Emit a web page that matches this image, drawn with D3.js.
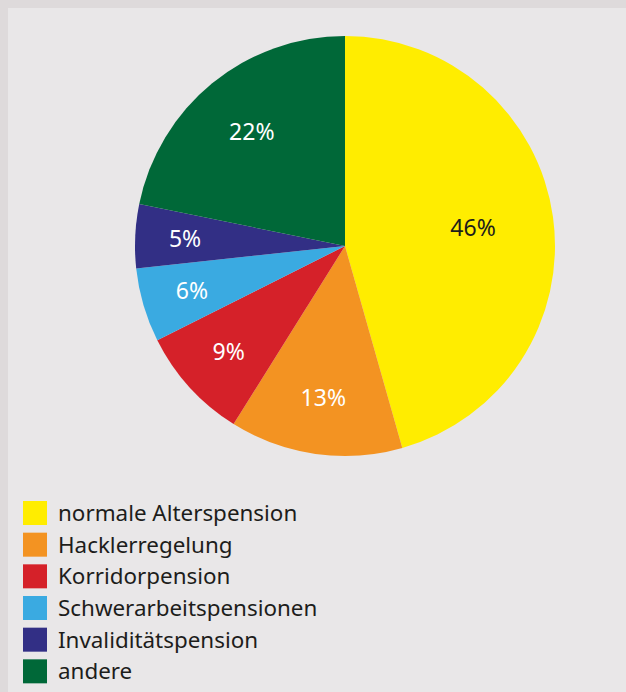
<!DOCTYPE html>
<html>
<head>
<meta charset="utf-8">
<script src="https://cdn.jsdelivr.net/npm/d3@7"></script>
<style>
  body { margin: 0; background: #dedadb; }
  svg { display: block; }
  .lbl { font-family: "Noto Sans", sans-serif; font-size: 23px; }
  .leg { font-family: "Noto Sans", sans-serif; font-size: 22.4px; fill: #1d1d1b; }
</style>
</head>
<body>
<div class="chart"></div>
<script>
var categories = ["normale Alterspension", "Hacklerregelung", "Korridorpension",
  "Schwerarbeitspensionen", "Invaliditätspension", "andere"];
var shares = [45.6, 13.3, 8.7, 5.7, 4.9, 21.8];
var colors = ["#ffed00", "#f39322", "#d52129", "#3aaae1", "#322f85", "#006838"];
var labelColors = ["#1d1d1b", "#fff", "#fff", "#fff", "#fff", "#fff"];

var svgWidth = 626;
var svgHeight = 692;
var cx = 345, cy = 246, radius = 210;

var data = categories.map(function(c, i) {
  return { name: c, value: shares[i], color: colors[i], text: labelColors[i] };
});
var total = d3.sum(shares);

var svg = d3.select(".chart")
  .append("svg")
  .attr("width", svgWidth)
  .attr("height", svgHeight);

// inner panel
svg.append("rect")
  .attr("x", 8)
  .attr("y", 8)
  .attr("width", svgWidth - 8)
  .attr("height", svgHeight - 8)
  .attr("fill", "#e9e7e8");

var pie = d3.pie()
  .sort(null)
  .value(d => d.value);

var arc = d3.arc()
  .innerRadius(0)
  .outerRadius(radius);

var pieGroup = svg.append("g")
  .attr("transform", `translate(${cx}, ${cy})`);

var arcs = pie(data);

pieGroup.selectAll("path")
  .data(arcs)
  .enter()
  .append("path")
  .attr("d", arc)
  .attr("fill", d => d.data.color);

// label distance shrinks for the big slices
pieGroup.selectAll("text")
  .data(arcs)
  .enter()
  .append("text")
  .attr("class", "lbl")
  .attr("transform", function(d) {
    var r = radius * (0.78 - 0.36 * d.data.value / total);
    var a = (d.startAngle + d.endAngle) / 2;
    return `translate(${Math.sin(a) * r}, ${-Math.cos(a) * r})`;
  })
  .attr("text-anchor", "middle")
  .attr("dy", "0.35em")
  .attr("fill", d => d.data.text)
  .text(d => Math.round(d.data.value) + "%");

// legend
var legendY = d3.scaleBand()
  .domain(categories)
  .range([497, 687]);

var legend = svg.append("g")
  .selectAll("g")
  .data(data)
  .enter()
  .append("g")
  .attr("transform", d => `translate(23, ${legendY(d.name) + 4})`);

legend.append("rect")
  .attr("width", 24)
  .attr("height", 24)
  .attr("fill", d => d.color);

legend.append("text")
  .attr("class", "leg")
  .attr("x", 35)
  .attr("y", 12)
  .attr("dy", "0.35em")
  .text(d => d.name);
</script>
</body>
</html>
